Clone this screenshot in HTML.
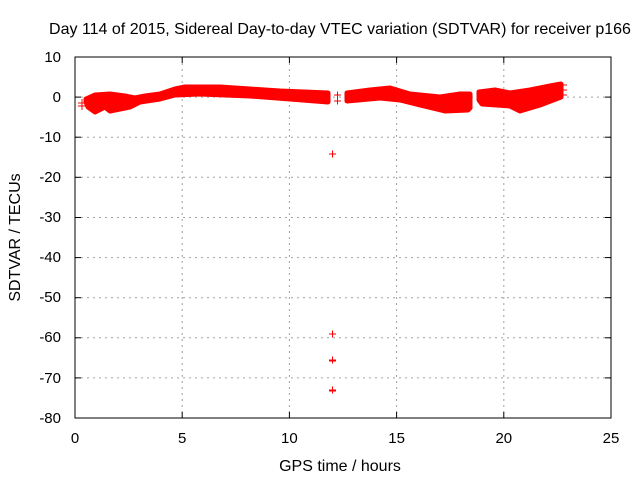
<!DOCTYPE html>
<html><head><meta charset="utf-8"><style>
html,body{margin:0;padding:0;background:#fff;}
svg{display:block;font-family:"Liberation Sans",sans-serif;}
</style></head><body>
<svg width="640" height="480" viewBox="0 0 640 480" xmlns="http://www.w3.org/2000/svg">
<rect width="640" height="480" fill="#fff"/>
<text x="340" y="34" font-size="16" text-anchor="middle" fill="#000">Day 114 of 2015, Sidereal Day-to-day VTEC variation (SDTVAR) for receiver p166</text>
<g stroke="#a0a0a0" stroke-width="1" stroke-dasharray="2,4" fill="none">
<line x1="182.2" y1="57" x2="182.2" y2="418"/>
<line x1="289.4" y1="57" x2="289.4" y2="418"/>
<line x1="396.6" y1="57" x2="396.6" y2="418"/>
<line x1="503.8" y1="57" x2="503.8" y2="418"/>
<line x1="75" y1="97.1" x2="611" y2="97.1"/>
<line x1="75" y1="137.2" x2="611" y2="137.2"/>
<line x1="75" y1="177.3" x2="611" y2="177.3"/>
<line x1="75" y1="217.5" x2="611" y2="217.5"/>
<line x1="75" y1="257.6" x2="611" y2="257.6"/>
<line x1="75" y1="297.7" x2="611" y2="297.7"/>
<line x1="75" y1="337.8" x2="611" y2="337.8"/>
<line x1="75" y1="377.9" x2="611" y2="377.9"/>
</g>
<rect x="75" y="57" width="536" height="361" fill="none" stroke="#000" stroke-width="1"/>
<g stroke="#000" stroke-width="1">
<line x1="182.2" y1="418" x2="182.2" y2="412"/><line x1="182.2" y1="57" x2="182.2" y2="63"/>
<line x1="289.4" y1="418" x2="289.4" y2="412"/><line x1="289.4" y1="57" x2="289.4" y2="63"/>
<line x1="396.6" y1="418" x2="396.6" y2="412"/><line x1="396.6" y1="57" x2="396.6" y2="63"/>
<line x1="503.8" y1="418" x2="503.8" y2="412"/><line x1="503.8" y1="57" x2="503.8" y2="63"/>
<line x1="75" y1="97.1" x2="81" y2="97.1"/><line x1="611" y1="97.1" x2="605" y2="97.1"/>
<line x1="75" y1="137.2" x2="81" y2="137.2"/><line x1="611" y1="137.2" x2="605" y2="137.2"/>
<line x1="75" y1="177.3" x2="81" y2="177.3"/><line x1="611" y1="177.3" x2="605" y2="177.3"/>
<line x1="75" y1="217.5" x2="81" y2="217.5"/><line x1="611" y1="217.5" x2="605" y2="217.5"/>
<line x1="75" y1="257.6" x2="81" y2="257.6"/><line x1="611" y1="257.6" x2="605" y2="257.6"/>
<line x1="75" y1="297.7" x2="81" y2="297.7"/><line x1="611" y1="297.7" x2="605" y2="297.7"/>
<line x1="75" y1="337.8" x2="81" y2="337.8"/><line x1="611" y1="337.8" x2="605" y2="337.8"/>
<line x1="75" y1="377.9" x2="81" y2="377.9"/><line x1="611" y1="377.9" x2="605" y2="377.9"/>
</g>
<g font-size="15" fill="#000" text-anchor="end">
<text x="61" y="62">10</text><text x="61" y="102">0</text><text x="61" y="142">-10</text>
<text x="61" y="182">-20</text><text x="61" y="222">-30</text><text x="61" y="262">-40</text>
<text x="61" y="302">-50</text><text x="61" y="342">-60</text><text x="61" y="383">-70</text>
<text x="61" y="423">-80</text>
</g>
<g font-size="15" fill="#000" text-anchor="middle">
<text x="75" y="443">0</text><text x="182.2" y="443">5</text><text x="289.4" y="443">10</text>
<text x="396.6" y="443">15</text><text x="503.8" y="443">20</text><text x="611" y="443">25</text>
</g>
<g font-size="16" fill="#000" text-anchor="middle">
<text x="340" y="471">GPS time / hours</text>
<text transform="translate(20,237.5) rotate(-90)">SDTVAR / TECUs</text>
</g>
<g fill="#ff0000" stroke="#ff0000" stroke-width="5" stroke-linejoin="round">
<path d="M86,99 L95,95 L110,94 L125,96 L135,98 L145,96 L160,94 L175,89 L185,87 L205,87 L220,87 L250,89 L280,91 L328,93 L328,102 L290,99 L250,96 L200,94 L175,95 L160,99 L140,102 L130,107 L110,111 L105,107 L95,112 L88,107 L86,102 Z"/>
<path d="M347,93 L370,90 L390,88 L410,94 L440,97 L460,94 L470,94 L470,108 L468,110 L445,111 L420,105 L400,100 L380,98 L347,101 Z"/>
<path d="M479,92 L495,90 L510,93 L530,90 L550,86 L561,84 L561,97 L540,105 L520,111 L510,106 L482,104 L479,100 Z"/>
</g>
<g stroke="#ff0000" stroke-width="1" fill="none">
<path d="M78,103h8M82,99v8M78,106h8M82,102v8"/>
<path d="M334,95h7M337.5,91.5v7M334,101h7M337.5,97.5v7"/>
<path d="M329,154h7M332.5,150.5v7"/>
<path d="M329,334h7M332.5,330.5v7"/>
<path d="M329,360h7M332.5,356.5v7M329,361h7"/>
<path d="M329,390h7M332.5,386.5v7M329,391h7"/>
<path d="M562,85h5M562,90h5M562,95h5"/>
</g>
</svg>
</body></html>
